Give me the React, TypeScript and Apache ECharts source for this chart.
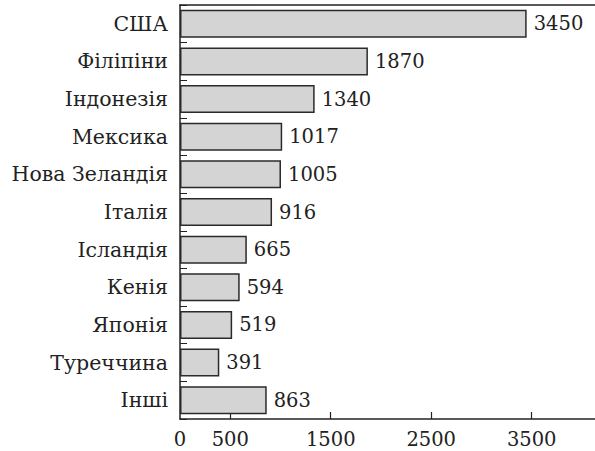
import React, { useEffect, useRef } from "react";
import * as echarts from "echarts";

const categories = [
  "США",
  "Філіпіни",
  "Індонезія",
  "Мексика",
  "Нова Зеландія",
  "Італія",
  "Ісландія",
  "Кенія",
  "Японія",
  "Туреччина",
  "Інші",
];
const values = [3450, 1870, 1340, 1017, 1005, 916, 665, 594, 519, 391, 863];
const xTickValues = [500, 1500, 2500, 3500];
const xLabelValues = [0, 500, 1500, 2500, 3500];

const FONT = "DejaVu Serif";
const INK = "#222";

export default function App() {
  const ref = useRef<HTMLDivElement>(null);
  useEffect(() => {
    if (!ref.current) return;
    const chart = echarts.init(ref.current, undefined, { renderer: "svg" });
    chart.setOption({
      animation: false,
      backgroundColor: "#ffffff",
      textStyle: { fontFamily: FONT },
      grid: { left: 180, right: 0, top: 5, bottom: 32, containLabel: false },
      xAxis: [
        {
          type: "value",
          position: "bottom",
          min: 0,
          max: 4130,
          axisLine: { show: true, lineStyle: { color: INK, width: 1.5 } },
          axisTick: {
            show: true,
            inside: true,
            length: 7,
            customValues: xTickValues,
            lineStyle: { color: INK, width: 1.2 },
          },
          axisLabel: {
            customValues: xLabelValues,
            formatter: (v: number) => String(v),
            fontFamily: FONT,
            fontSize: 19.5,
            color: INK,
            margin: 10,
          },
          splitLine: { show: false },
        },
        {
          type: "value",
          position: "top",
          min: 0,
          max: 4130,
          axisLine: { show: true, onZero: false, lineStyle: { color: INK, width: 1.5 } },
          axisTick: { show: false },
          axisLabel: { show: false },
          splitLine: { show: false },
        },
      ],
      yAxis: {
        type: "category",
        data: categories,
        inverse: true,
        axisLine: { show: true, lineStyle: { color: INK, width: 1.5 } },
        axisTick: { show: true, inside: true, length: 7, lineStyle: { color: INK, width: 1 } },
        axisLabel: { fontFamily: FONT, fontSize: 20.5, color: INK, margin: 12 },
        splitLine: { show: false },
      },
      series: [
        {
          type: "bar",
          data: values,
          barWidth: 28,
          itemStyle: { color: "#d4d4d4", borderColor: "#2a2a2a", borderWidth: 1.5 },
          label: {
            show: true,
            position: "right",
            distance: 7,
            fontFamily: FONT,
            fontSize: 19.5,
            color: INK,
          },
        },
      ],
    });
    return () => chart.dispose();
  }, []);
  return (
    <div
      ref={ref}
      style={{ position: "fixed", left: 0, top: 0, width: 595, height: 451, background: "#fff" }}
    />
  );
}
